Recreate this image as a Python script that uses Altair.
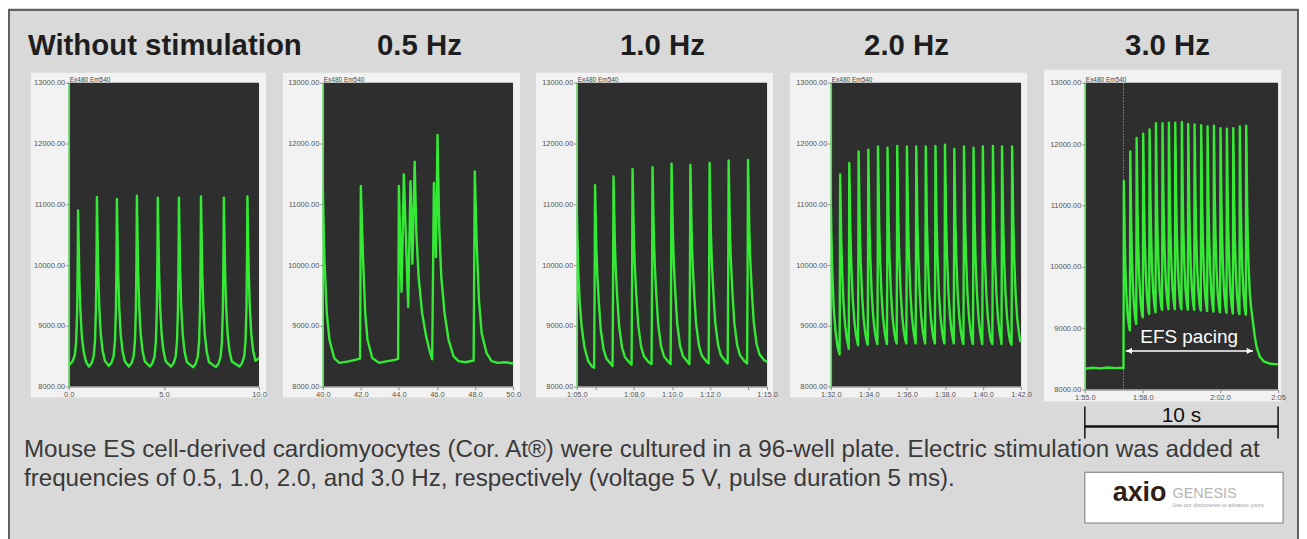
import json
import altair as alt
import pandas as pd

# ---------------- text ----------------
TITLES = ["Without stimulation", "0.5 Hz", "1.0 Hz", "2.0 Hz", "3.0 Hz"]
CHANNEL_LABEL = "Ex480 Em540"
CAPTION_LINES = [
    "Mouse ES cell-derived cardiomyocytes (Cor. At\u00ae) were cultured in a 96-well plate. Electric stimulation was added at",
    "frequencies of 0.5, 1.0, 2.0, and 3.0 Hz, respectively (voltage 5 V, pulse duration 5 ms).",
]
PACING_LABEL = "EFS pacing"
SCALE_LABEL = "10 s"
LOGO_MAIN = "axio"
LOGO_SIDE = "GENESIS"
LOGO_TAG = "Use our discoveries to advance yours"

# ---------------- axes ----------------
Y_TICKS = [8000, 9000, 10000, 11000, 12000, 13000]
X_DOMAINS = [[0, 10], [40, 50], [65, 75], [92, 102], [115, 125]]
X_TICKS = [
    [0, 5, 10],
    [40, 42, 44, 46, 48, 50],
    [65, 66, 68, 70, 72, 74, 75],
    [92, 94, 96, 98, 100, 102],
    [115, 116, 118, 120, 122, 124, 125],
]
X_TICK_LABELS = [
    ["0.0", "5.0", "10.0"],
    ["40.0", "42.0", "44.0", "46.0", "48.0", "50.0"],
    ["1:05.0", "", "1:08.0", "1:10.0", "1:12.0", "", "1:15.0"],
    ["1:32.0", "1:34.0", "1:36.0", "1:38.0", "1:40.0", "1:42.0"],
    ["1:55.0", "", "1:58.0", "2:00.0", "2:02.0", "", "2:05"],
]

# ---------------- traces ----------------
# Panel 1: spontaneous beating
P1_START = [(0.0, 8380)]
P1_PEAK_T = [0.49, 1.48, 2.53, 3.58, 4.68, 5.79, 6.95, 8.15, 9.39]
P1_PEAK_V = [10900, 11120, 11090, 11140, 11110, 11110, 11130, 11110, 11130]
P1_TROUGH_V = [8370, 8330, 8340, 8330, 8330, 8330, 8320, 8320, 8330]
P1_RISE = [(-0.42, 0.0), (-0.28, 0.02), (-0.17, 0.06), (-0.1, 0.15), (-0.05, 0.35), (-0.02, 0.65)]
P1_DECAY = [(0.03, 0.8), (0.07, 0.55), (0.12, 0.36), (0.2, 0.19), (0.3, 0.09), (0.42, 0.03)]
P1_END_BASE = 8340
P1_TAIL = [(10.0, 8470)]

# Panel 2: 0.5 Hz (irregular) - vertices
P2_T = [40.0, 40.09, 40.21, 40.35, 40.6, 40.87, 41.3, 41.7, 41.96,
        42.0, 42.12, 42.23, 42.35, 42.6, 42.96, 43.4, 43.8, 43.96,
        44.0, 44.14, 44.26, 44.49, 44.61, 44.71, 44.83, 44.92, 45.04, 45.22, 45.43, 45.65, 45.75,
        45.84, 45.95, 46.03, 46.12, 46.23, 46.4, 46.61, 46.87, 47.13, 47.5, 47.93,
        47.99, 48.09, 48.21, 48.35, 48.61, 48.87, 49.2, 49.6, 50.0]
P2_V = [11300, 10080, 9210, 8770, 8470, 8390, 8410, 8440, 8460,
        11300, 10080, 9210, 8770, 8470, 8390, 8420, 8440, 8460,
        11300, 9560, 11490, 9310, 11380, 10020, 11700, 10510, 9800, 9210, 8830, 8550, 8450,
        11350, 10130, 12140, 10620, 9800, 9210, 8770, 8500, 8420, 8400, 8430,
        11540, 10350, 9420, 8880, 8550, 8420, 8390, 8400, 8380]

# Panel 3: 1.0 Hz
P3_START = [(65.0, 10950), (65.03, 10500), (65.08, 9900), (65.15, 9400), (65.25, 9000),
            (65.4, 8650), (65.6, 8420), (65.8, 8330)]
P3_PEAK_T = [65.96, 66.93, 67.93, 68.98, 69.98, 70.97, 71.98, 72.98, 74.0]
P3_PEAK_V = [11315, 11460, 11580, 11610, 11670, 11650, 11680, 11720, 11730]
P3_TROUGH_V = [8310, 8340, 8360, 8370, 8370, 8370, 8380, 8380, 8380]
P3_RISE = [(-0.05, 0.0), (-0.025, 0.4)]
P3_DECAY = [(0.03, 0.85), (0.07, 0.65), (0.12, 0.5), (0.2, 0.35), (0.3, 0.2),
            (0.45, 0.09), (0.6, 0.04), (0.85, 0.01)]
P3_END_BASE = 8400
P3_TAIL = [(75.0, 8410)]

# Panel 4: 2.0 Hz
P4_START = [(92.0, 11000), (92.03, 10500), (92.08, 9900), (92.15, 9300), (92.25, 8900), (92.36, 8650)]
P4_PEAK_T = [92.49, 92.97, 93.46, 93.97, 94.48, 94.98, 95.49, 96.0, 96.49, 96.99,
             97.5, 98.0, 98.49, 99.0, 99.5, 99.99, 100.52, 101.0, 101.53]
P4_PEAK_V = [11490, 11680, 11870, 11900, 11950, 11930, 11960, 11950, 11950, 11950,
             11960, 11980, 11910, 11950, 11930, 11950, 11960, 11950, 11950]
P4_TROUGH_V = [8530, 8620, 8680, 8690, 8700, 8700, 8710, 8710, 8710, 8710,
               8710, 8710, 8710, 8700, 8700, 8700, 8700, 8700, 8690]
P4_RISE = [(-0.03, 0.0), (-0.012, 0.45)]
P4_DECAY = [(0.025, 0.85), (0.06, 0.62), (0.11, 0.43), (0.18, 0.26), (0.26, 0.14),
            (0.35, 0.06), (0.43, 0.015)]
P4_END_BASE = 8700
P4_TAIL = [(102.0, 8760)]

# Panel 5: 3.0 Hz
P5_START = [(115.0, 8340), (115.4, 8355), (115.8, 8345), (116.2, 8360), (116.6, 8350), (116.95, 8355)]
P5_PEAK_T = [117.02, 117.35, 117.68, 118.02, 118.35, 118.68, 119.02, 119.35, 119.68, 120.02,
             120.35, 120.68, 121.02, 121.35, 121.68, 122.02, 122.35, 122.68, 123.02, 123.35]
P5_PEAK_V = [11400, 11880, 12100, 12170, 12240, 12340, 12340, 12350, 12350, 12360,
             12330, 12320, 12310, 12290, 12300, 12260, 12250, 12260, 12290, 12300]
P5_TROUGH_V = [8350, 8965, 9070, 9180, 9230, 9260, 9300, 9310, 9310, 9310,
               9300, 9300, 9290, 9280, 9270, 9260, 9250, 9240, 9230, 9220]
P5_RISE = [(-0.02, 0.0), (-0.008, 0.45)]
P5_DECAY = [(0.02, 0.85), (0.045, 0.62), (0.08, 0.42), (0.13, 0.24), (0.19, 0.11),
            (0.25, 0.04), (0.29, 0.01)]
P5_END_BASE = 9220
P5_TAIL = [(123.72, 9050), (123.8, 8850), (123.9, 8680), (124.05, 8540), (124.25, 8460),
           (124.6, 8420), (125.0, 8410)]
P5_STIM_START = 117.0
P5_ARROW = (117.12, 123.7, 8630)
P5_LABEL_POS = (120.4, 8760)
P5_SCALE = (115, 125)

GREEN = "#35ea35"
DARK = "#2e2e2e"
LIGHT = "#f2f2f2"
BG = "#d9d9d9"
FONT = "Liberation Sans"


def beats(start, peak_t, peak_v, trough_v, rise, decay, end_base, tail):
    pts = list(start)
    n = len(peak_t)
    for i in range(n):
        tp, vp, vb = peak_t[i], peak_v[i], trough_v[i]
        nb = trough_v[i + 1] if i + 1 < n else end_base
        for dt, f in rise:
            pts.append((tp + dt, vb + f * (vp - vb)))
        pts.append((tp, vp))
        for dt, f in decay:
            pts.append((tp + dt, nb + f * (vp - nb)))
    pts.extend(tail)
    return pd.DataFrame({"t": [p[0] for p in pts], "v": [p[1] for p in pts], "i": list(range(len(pts)))})


traces = [
    beats(P1_START, P1_PEAK_T, P1_PEAK_V, P1_TROUGH_V, P1_RISE, P1_DECAY, P1_END_BASE, P1_TAIL),
    pd.DataFrame({"t": P2_T, "v": P2_V, "i": list(range(len(P2_T)))}),
    beats(P3_START, P3_PEAK_T, P3_PEAK_V, P3_TROUGH_V, P3_RISE, P3_DECAY, P3_END_BASE, P3_TAIL),
    beats(P4_START, P4_PEAK_T, P4_PEAK_V, P4_TROUGH_V, P4_RISE, P4_DECAY, P4_END_BASE, P4_TAIL),
    beats(P5_START, P5_PEAK_T, P5_PEAK_V, P5_TROUGH_V, P5_RISE, P5_DECAY, P5_END_BASE, P5_TAIL),
]

WIDTHS = [191, 191, 191, 191, 194]
HEIGHTS = [305, 305, 305, 305, 308]
LIGHT_BOX = [(-38, 7, -10, 11), (-40, 7, -10, 11), (-41, 6, -10, 11), (-41, 6, -10, 11), (-41, 3, -13, 12)]
TITLE_POS = [(-41, "left"), (97, "center"), (86, "center"), (76, "center"), (83, "center")]

one = pd.DataFrame({"k": [0]})


def panel(i):
    W, H = WIDTHS[i], HEIGHTS[i]
    ll, rr, tt, bb = LIGHT_BOX[i]
    expr = "%s[indexof(%s, datum.value)]" % (json.dumps(X_TICK_LABELS[i]), json.dumps(X_TICKS[i]))
    common = dict(title=None, grid=False, zindex=1, labelFont=FONT, labelFontSize=7.5,
                  labelColor="#555555", tickColor="#888888", tickSize=3, labelPadding=1,
                  labelOverlap=False, labelFlush=False)
    x = alt.X("t:Q", scale=alt.Scale(domain=X_DOMAINS[i], nice=False, zero=False),
              axis=alt.Axis(values=X_TICKS[i], labelExpr=expr, domainColor="#888888", **common))
    y = alt.Y("v:Q", scale=alt.Scale(domain=[8000, 13000], nice=False, zero=False),
              axis=alt.Axis(values=Y_TICKS, format=".2f", domainColor="#3cf03c", domainWidth=1.5, **common))

    layers = []
    if i == 0:
        layers.append(alt.Chart(one).mark_rect(fill=BG, stroke="#3a3a3a", strokeWidth=1.5).encode(
            x=alt.value(-60), x2=alt.value(1234), y=alt.value(-73), y2=alt.value(470)))
    layers.append(alt.Chart(one).mark_rect(fill=LIGHT).encode(
        x=alt.value(ll), x2=alt.value(W + rr), y=alt.value(tt), y2=alt.value(H + bb)))
    layers.append(alt.Chart(one).mark_rect(fill=DARK).encode(
        x=alt.value(0), x2=alt.value(W), y=alt.value(0), y2=alt.value(H)))
    layers.append(alt.Chart(traces[i]).mark_line(color=GREEN, strokeWidth=2.4, clip=True,
                                                 strokeJoin="round").encode(
        x=x, y=y, order="i:Q"))
    layers.append(alt.Chart(pd.DataFrame({"s": [CHANNEL_LABEL]})).mark_text(
        align="left", baseline="alphabetic", font=FONT, fontSize=6.5, color="#444444").encode(
        text="s:N", x=alt.value(1), y=alt.value(-1)))
    tx, ta = TITLE_POS[i]
    layers.append(alt.Chart(pd.DataFrame({"s": [TITLES[i]]})).mark_text(
        align=ta, baseline="alphabetic", font=FONT, fontSize=29.5, fontWeight="bold",
        color="#1e1e1e").encode(text="s:N", x=alt.value(tx), y=alt.value(-28)))

    if i == 0:
        cap = pd.DataFrame({"s": CAPTION_LINES, "yy": [376, 405]})
        layers.append(alt.Chart(cap).mark_text(
            align="left", baseline="alphabetic", font=FONT, fontSize=24.3, color="#3a3a3a").encode(
            text="s:N", x=alt.value(-45), y=alt.Y("yy:Q", scale=None)))

    if i == 4:
        layers.append(alt.Chart(pd.DataFrame({"t": [P5_STIM_START]})).mark_rule(
            color="#bbbbbb", strokeDash=[1, 2], strokeWidth=1).encode(x="t:Q"))
        a0, a1, av = P5_ARROW
        layers.append(alt.Chart(pd.DataFrame({"t": [a0], "t2": [a1], "v": [av]})).mark_rule(
            color="white", strokeWidth=1.5).encode(x="t:Q", x2="t2:Q", y="v:Q"))
        layers.append(alt.Chart(pd.DataFrame({"t": [a0 + 0.18, a1 - 0.18], "v": [av, av],
                                              "s": ["triangle-left", "triangle-right"]})).mark_point(
            filled=True, color="white", opacity=1, size=40).encode(
            x="t:Q", y="v:Q", shape=alt.Shape("s:N", scale=None)))
        lx, lv = P5_LABEL_POS
        layers.append(alt.Chart(pd.DataFrame({"t": [lx], "v": [lv], "s": [PACING_LABEL]})).mark_text(
            color="white", font=FONT, fontSize=19, baseline="alphabetic", align="center").encode(
            x="t:Q", y="v:Q", text="s:N"))
        s0, s1 = P5_SCALE
        layers.append(alt.Chart(pd.DataFrame({"t": [s0], "t2": [s1]})).mark_rule(
            color="#111111", strokeWidth=2.5).encode(x="t:Q", x2="t2:Q", y=alt.value(345)))
        layers.append(alt.Chart(pd.DataFrame({"t": [s0, s1]})).mark_rule(
            color="#111111", strokeWidth=1.5).encode(x="t:Q", y=alt.value(325), y2=alt.value(357)))
        layers.append(alt.Chart(pd.DataFrame({"t": [(s0 + s1) / 2], "s": [SCALE_LABEL]})).mark_text(
            color="#111111", font=FONT, fontSize=21, baseline="alphabetic", align="center").encode(
            x="t:Q", y=alt.value(341), text="s:N"))
        # logo
        layers.append(alt.Chart(one).mark_rect(fill="white", stroke="#777777", strokeWidth=1).encode(
            x=alt.value(0), x2=alt.value(199), y=alt.value(391), y2=alt.value(442)))
        layers.append(alt.Chart(pd.DataFrame({"s": [LOGO_MAIN]})).mark_text(
            align="left", baseline="alphabetic", font=FONT, fontSize=27, fontWeight="bold",
            color="#2e2019").encode(text="s:N", x=alt.value(28), y=alt.value(420)))
        layers.append(alt.Chart(pd.DataFrame({"s": [LOGO_SIDE]})).mark_text(
            align="left", baseline="alphabetic", font=FONT, fontSize=14.5, color="#b5b5b5").encode(
            text="s:N", x=alt.value(88), y=alt.value(417)))
        layers.append(alt.Chart(pd.DataFrame({"s": [LOGO_TAG]})).mark_text(
            align="left", baseline="alphabetic", font=FONT, fontSize=5.5, color="#a0a0a0").encode(
            text="s:N", x=alt.value(88), y=alt.value(426)))

    return alt.layer(*layers).properties(width=W, height=H)


chart = alt.hconcat(*[panel(i) for i in range(5)], spacing=64, bounds="flush", padding=0).configure(
    background=BG).configure_view(strokeWidth=0)

chart.save("out.html", embed_options={"renderer": "svg", "actions": False})
